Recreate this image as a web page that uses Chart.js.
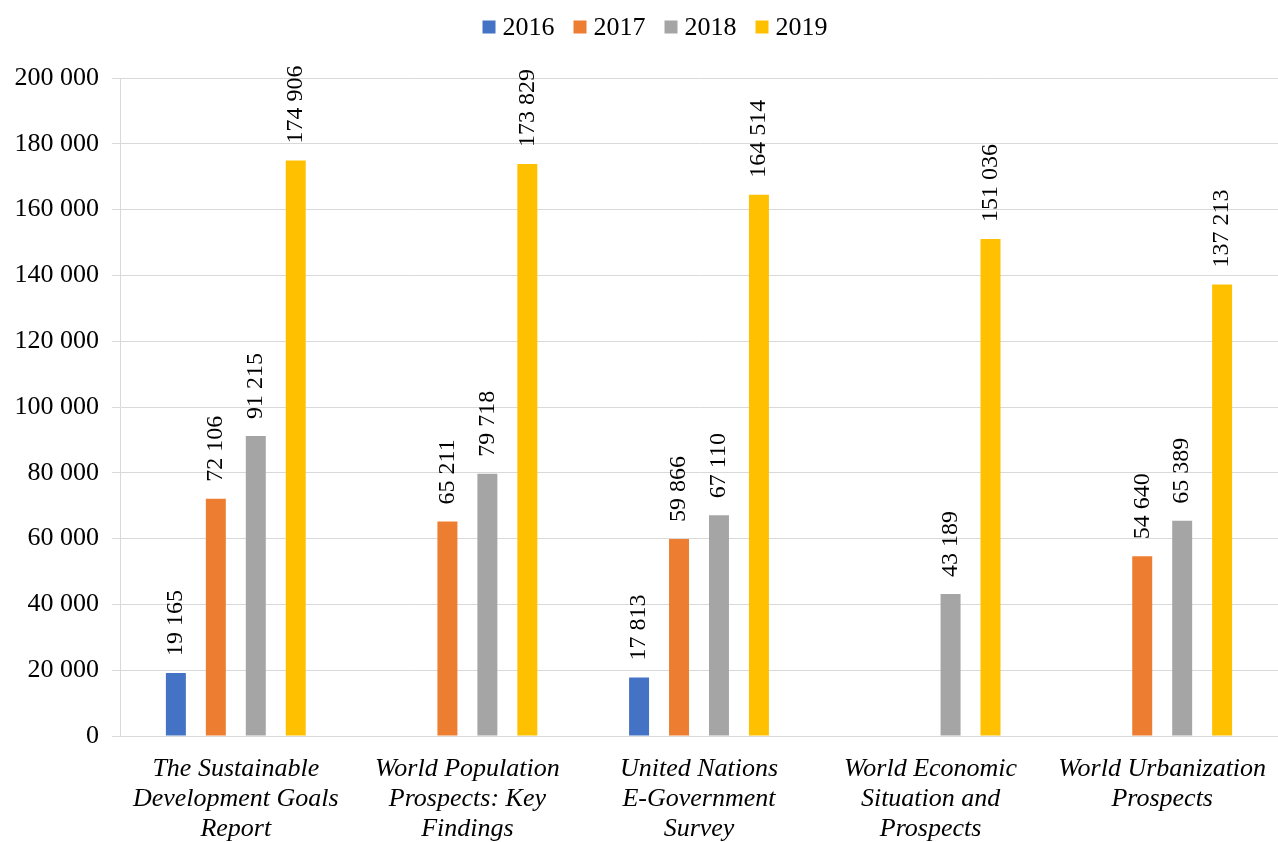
<!DOCTYPE html>
<html>
<head>
<meta charset="utf-8">
<script src="https://cdn.jsdelivr.net/npm/chart.js@4"></script>
<style>
  html, body { margin:0; padding:0; background:#fff; }
  #wrap { width:1278px; height:842px; position:relative; }
</style>
</head>
<body>
<div id="wrap"><canvas id="barChart"></canvas></div>
<script>
// ---- DATA ----
const categories = [
  ['The Sustainable', 'Development Goals', 'Report'],
  ['World Population', 'Prospects: Key', 'Findings'],
  ['United Nations', 'E-Government', 'Survey'],
  ['World Economic', 'Situation and', 'Prospects'],
  ['World Urbanization', 'Prospects']
];
const years = ['2016', '2017', '2018', '2019'];
const v2016 = [19165, null, 17813, null, null];
const v2017 = [72106, 65211, 59866, null, 54640];
const v2018 = [91215, 79718, 67110, 43189, 65389];
const v2019 = [174906, 173829, 164514, 151036, 137213];
const colors = ['#4472C4', '#ED7D31', '#A5A5A5', '#FFC000'];

const fmt = v => String(Math.round(v)).replace(/\B(?=(\d{3})+(?!\d))/g, ' ');
const FONT = "'Liberation Serif', 'Times New Roman', serif";

// legend drawn by hand (small square, tight gap like the original)
const topLegend = {
  id: 'topLegend',
  afterDraw(chart) {
    const ctx = chart.ctx;
    const ds = chart.data.datasets;
    ctx.save();
    ctx.font = '26px ' + FONT;
    ctx.textBaseline = 'middle';
    ctx.textAlign = 'left';
    const box = 13, gap = 7, sep = 19;
    const widths = ds.map(d => box + gap + ctx.measureText(d.label).width);
    const total = widths.reduce((a, b) => a + b, 0) + sep * (ds.length - 1);
    let x = chart.width / 2 + 16 - total / 2;
    const cy = 27;
    ds.forEach((d, i) => {
      ctx.fillStyle = d.backgroundColor;
      ctx.fillRect(x, cy - box / 2, box, box);
      ctx.fillStyle = '#000';
      ctx.fillText(d.label, x + box + gap, cy + 1);
      x += widths[i] + sep;
    });
    ctx.restore();
  }
};

// value labels rotated above each bar
const barLabels = {
  id: 'barLabels',
  afterDatasetsDraw(chart) {
    const ctx = chart.ctx;
    ctx.save();
    ctx.fillStyle = '#000';
    ctx.font = '24px ' + FONT;
    ctx.textAlign = 'left';
    ctx.textBaseline = 'middle';
    chart.data.datasets.forEach((ds, i) => {
      const meta = chart.getDatasetMeta(i);
      meta.data.forEach((bar, j) => {
        const v = ds.data[j];
        if (v == null) return;
        ctx.save();
        ctx.translate(bar.x, bar.y - 17);
        ctx.rotate(-Math.PI / 2);
        ctx.fillText(fmt(v), 0, 0);
        ctx.restore();
      });
    });
    ctx.restore();
  }
};

const series = [v2016, v2017, v2018, v2019];
new Chart(document.getElementById('barChart'), {
  type: 'bar',
  data: {
    labels: categories,
    datasets: years.map((y, i) => ({
      label: y, data: series[i], backgroundColor: colors[i],
      categoryPercentage: 0.69, barPercentage: 0.5
    }))
  },
  options: {
    responsive: true, maintainAspectRatio: false, animation: false,
    layout: { padding: { top: 78, right: 0, left: 0, bottom: 0 } },
    plugins: {
      legend: { display: false },
      tooltip: { enabled: false }
    },
    scales: {
      x: {
        grid: { display: false },
        border: { color: '#d9d9d9' },
        ticks: { color: '#000', font: { family: FONT, size: 26, style: 'italic', lineHeight: '30px' }, maxRotation: 0, autoSkip: false, padding: 10 },
        afterFit(s) { s.height = 106; }
      },
      y: {
        min: 0, max: 200000,
        grid: { color: '#d9d9d9', tickLength: 8 },
        border: { color: '#d9d9d9' },
        ticks: { stepSize: 20000, color: '#000', font: { family: FONT, size: 26 }, padding: 13, callback: v => fmt(v) },
        afterFit(s) { s.width = 120; }
      }
    }
  },
  plugins: [barLabels, topLegend]
});
</script>
</body>
</html>
